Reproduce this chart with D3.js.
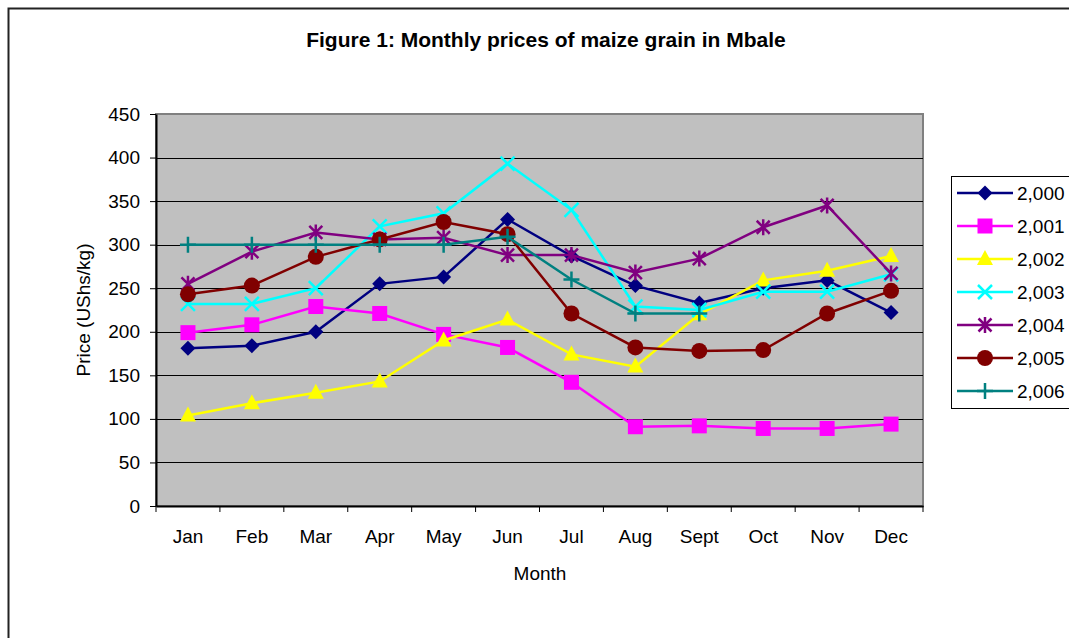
<!DOCTYPE html>
<html>
<head>
<meta charset="utf-8">
<script src="https://cdn.jsdelivr.net/npm/d3@7"></script>
<style>
  body { margin: 0; background: #fff; }
  svg text { font-family: Arial, "Liberation Sans", sans-serif; fill: #000; }
</style>
</head>
<body>
<div class="vis-container"></div>
<script>
const MONTHS = ['Jan', 'Feb', 'Mar', 'Apr', 'May', 'Jun', 'Jul', 'Aug', 'Sept', 'Oct', 'Nov', 'Dec'];
const Y_TICKS = [0, 50, 100, 150, 200, 250, 300, 350, 400, 450];

const P2000 = [181, 184, 200, 255, 263, 329, 287, 253, 233, 250, 259, 222];
const P2001 = [199, 208, 229, 221, 197, 182, 142, 91, 92, 89, 89, 94];
const P2002 = [104, 118, 130, 143, 190, 214, 174, 160, 220, 259, 270, 287];
const P2003 = [232, 232, 250, 321, 336, 393, 340, 229, 225, 246, 246, 266];
const P2004 = [255, 292, 314, 306, 308, 288, 288, 268, 284, 320, 345, 267];
const P2005 = [243, 253, 286, 306, 326, 312, 221, 182, 178, 179, 221, 247];
const P2006 = [300, 300, 300, 300, 300, 309, 260, 221, 221, null, null, null];

const SERIES = [
  {name: '2,000', values: P2000, color: '#000080', marker: 'diamond'},
  {name: '2,001', values: P2001, color: '#ff00ff', marker: 'square'},
  {name: '2,002', values: P2002, color: '#ffff00', marker: 'triangle'},
  {name: '2,003', values: P2003, color: '#00ffff', marker: 'x'},
  {name: '2,004', values: P2004, color: '#800080', marker: 'star'},
  {name: '2,005', values: P2005, color: '#800000', marker: 'circle'},
  {name: '2,006', values: P2006, color: '#008080', marker: 'plus'}
];

document.addEventListener('DOMContentLoaded', () => {
  buildChart();
});

function drawMarker(g, type, color) {
  if (type === 'diamond') {
    g.append('path').attr('d', 'M0,-7.5L7.5,0L0,7.5L-7.5,0Z').attr('fill', color);
  } else if (type === 'square') {
    g.append('rect').attr('x', -7.5).attr('y', -7.5).attr('width', 15).attr('height', 15).attr('fill', color);
  } else if (type === 'triangle') {
    g.append('path').attr('d', 'M0,-9L8,6L-8,6Z').attr('fill', color);
  } else if (type === 'x') {
    g.append('path').attr('d', 'M-7,-7L7,7M-7,7L7,-7')
      .attr('stroke', color).attr('stroke-width', 2.5).attr('fill', 'none');
  } else if (type === 'star') {
    g.append('path').attr('d', 'M-6.5,-6.5L6.5,6.5M-6.5,6.5L6.5,-6.5M0,-8L0,8')
      .attr('stroke', color).attr('stroke-width', 2.5).attr('fill', 'none');
  } else if (type === 'circle') {
    g.append('circle').attr('r', 8).attr('fill', color);
  } else if (type === 'plus') {
    g.append('path').attr('d', 'M-8,0L8,0M0,-8L0,8')
      .attr('stroke', color).attr('stroke-width', 2.5).attr('fill', 'none');
  }
}

function buildChart() {
  const width = 1069;
  const height = 638;
  const plot = {left: 156, right: 923, top: 114, bottom: 506};
  const FONT = 19;

  const svg = d3.select('.vis-container').append('svg')
    .attr('width', width)
    .attr('height', height);

  // outer chart frame (only left/top visible in the crop)
  svg.append('rect')
    .attr('x', 8.5).attr('y', 8.5)
    .attr('width', 1200).attr('height', 800)
    .attr('fill', '#fff')
    .attr('stroke', '#222')
    .attr('stroke-width', 2);

  svg.append('text')
    .attr('x', 546).attr('y', 47)
    .attr('text-anchor', 'middle')
    .attr('font-size', 21)
    .attr('font-weight', 'bold')
    .text('Figure 1: Monthly prices of maize grain in Mbale');

  const x = d3.scaleBand().domain(MONTHS).range([plot.left, plot.right]);
  const y = d3.scaleLinear().domain([0, 450]).range([plot.bottom, plot.top]);
  const cx = m => x(m) + x.bandwidth() / 2;

  svg.append('rect')
    .attr('x', plot.left).attr('y', plot.top)
    .attr('width', plot.right - plot.left).attr('height', plot.bottom - plot.top)
    .attr('fill', '#c0c0c0')
    .attr('stroke', '#808080')
    .attr('stroke-width', 2);

  svg.selectAll('.grid').data(Y_TICKS.filter(d => d > 0 && d < 450))
    .enter().append('line')
      .attr('class', 'grid')
      .attr('x1', plot.left).attr('x2', plot.right)
      .attr('y1', d => Math.round(y(d)) + 0.5).attr('y2', d => Math.round(y(d)) + 0.5)
      .attr('stroke', '#000')
      .attr('stroke-width', 1);

  // y axis
  const yAxis = svg.append('g')
    .attr('transform', `translate(${plot.left},0)`)
    .call(d3.axisLeft(y).tickValues(Y_TICKS).tickSize(6).tickPadding(10).tickSizeOuter(0));
  yAxis.select('.domain').attr('stroke', '#000').attr('stroke-width', 2);
  yAxis.selectAll('.tick line').attr('stroke', '#000');
  yAxis.selectAll('.tick text').attr('font-size', FONT).attr('font-family', 'Arial, "Liberation Sans", sans-serif');

  // x axis
  const xAxis = svg.append('g')
    .attr('transform', `translate(0,${plot.bottom})`)
    .call(d3.axisBottom(x).tickSize(0).tickPadding(24));
  xAxis.select('.domain').attr('stroke', '#000').attr('stroke-width', 2);
  xAxis.selectAll('.tick text').attr('font-size', FONT).attr('font-family', 'Arial, "Liberation Sans", sans-serif');
  const edges = MONTHS.map(m => x(m)).concat([plot.right]);
  svg.selectAll('.xtick').data(edges)
    .enter().append('line')
      .attr('class', 'xtick')
      .attr('x1', d => d).attr('x2', d => d)
      .attr('y1', plot.bottom).attr('y2', plot.bottom + 6)
      .attr('stroke', '#000');

  svg.append('text')
    .attr('x', 540).attr('y', 580)
    .attr('text-anchor', 'middle')
    .attr('font-size', FONT)
    .text('Month');

  svg.append('text')
    .attr('transform', 'translate(90, 310) rotate(-90)')
    .attr('text-anchor', 'middle')
    .attr('font-size', FONT)
    .text('Price (UShs/kg)');

  const line = d3.line()
    .defined(d => d.v != null)
    .x(d => cx(d.m))
    .y(d => y(d.v));

  SERIES.forEach(s => {
    const pts = s.values.map((v, i) => ({m: MONTHS[i], v}));
    svg.append('path')
      .datum(pts)
      .attr('d', line)
      .attr('fill', 'none')
      .attr('stroke', s.color)
      .attr('stroke-width', 2.5);
    svg.selectAll(null).data(pts.filter(d => d.v != null))
      .enter().append('g')
        .attr('transform', d => `translate(${cx(d.m)},${y(d.v)})`)
        .each(function() { drawMarker(d3.select(this), s.marker, s.color); });
  });

  // legend
  const legend = svg.append('g');
  legend.append('rect')
    .attr('x', 951.5).attr('y', 176.5)
    .attr('width', 200).attr('height', 232)
    .attr('fill', '#fff')
    .attr('stroke', '#000')
    .attr('stroke-width', 1);
  SERIES.forEach((s, i) => {
    const ly = 193 + i * 33;
    const g = legend.append('g');
    g.append('line')
      .attr('x1', 957).attr('x2', 1013)
      .attr('y1', ly).attr('y2', ly)
      .attr('stroke', s.color)
      .attr('stroke-width', 2.5);
    drawMarker(g.append('g').attr('transform', `translate(985,${ly})`), s.marker, s.color);
    g.append('text')
      .attr('x', 1017).attr('y', ly + 7)
      .attr('font-size', FONT)
      .text(s.name);
  });
}
</script>
</body>
</html>
